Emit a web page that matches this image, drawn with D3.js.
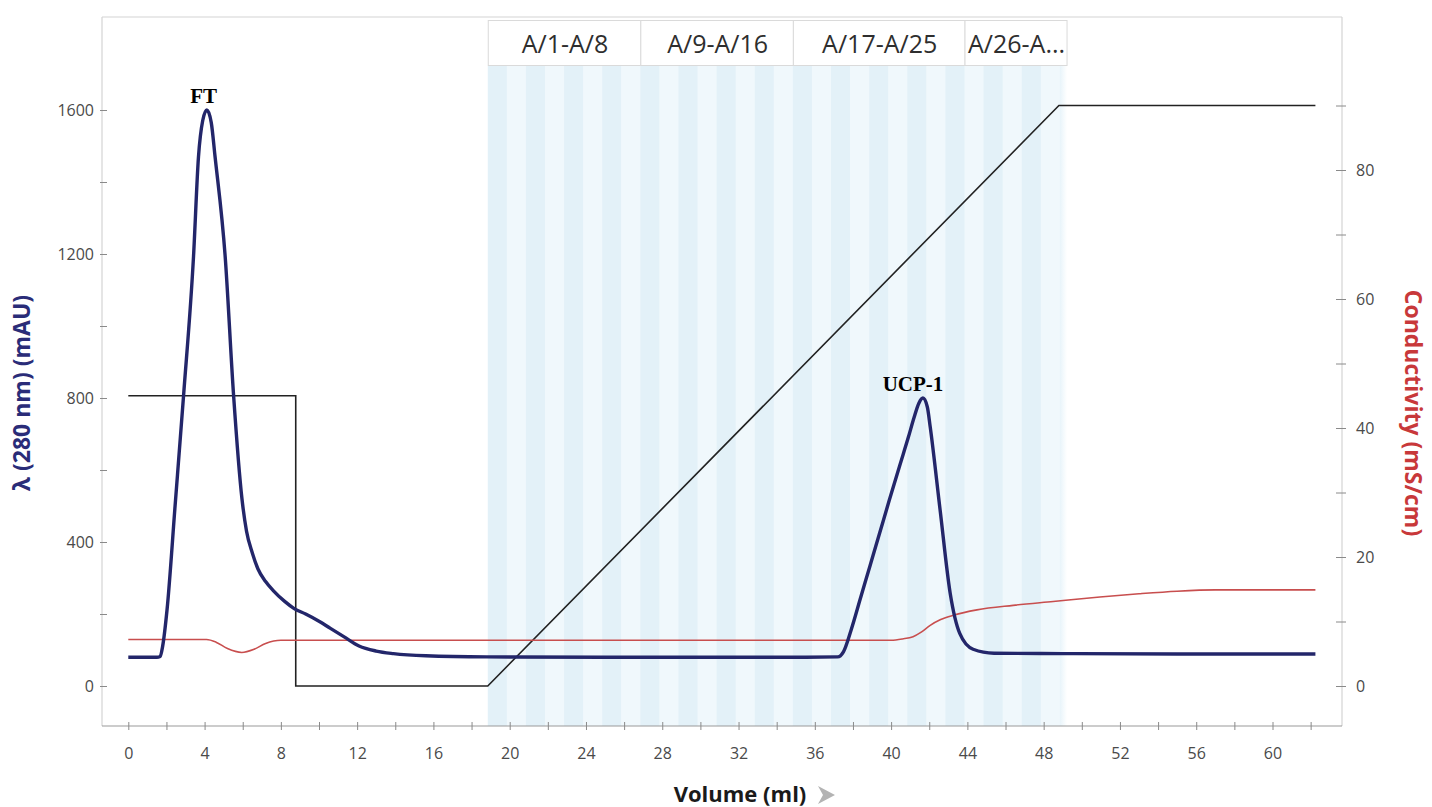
<!DOCTYPE html>
<html>
<head>
<meta charset="utf-8">
<script src="https://cdn.jsdelivr.net/npm/d3@7"></script>
<style>
  html, body { margin: 0; padding: 0; background: #ffffff; }
  svg { display: block; }
  text { font-family: "Open Sans", "Noto Sans", sans-serif; }
</style>
</head>
<body>
<div id="chart"></div>
<script>
// ---------- DATA ----------
// UV absorbance at 280 nm (mAU) vs volume (ml)
const uvVolume = [0, 1.5, 1.67, 1.8, 2.03, 2.45, 2.9, 3.42, 3.68, 3.9, 4.12, 4.35, 4.55, 5.08, 5.52, 5.96, 6.2, 6.5, 6.8, 7.2, 7.6, 8.2, 8.7, 9.3, 10.0, 10.6, 11.3, 12.1, 13.0, 13.9, 15.6, 18.8, 25, 30, 35, 37.2, 37.5, 37.9, 38.4, 38.9, 39.4, 39.9, 40.45, 40.9, 41.2, 41.45, 41.67, 41.9, 42.05, 42.57, 43.1, 43.6, 44.3, 45.4, 49, 55, 62.25];
const uvValue  = [80, 80, 82, 110, 211, 498, 808, 1193, 1470, 1570, 1600, 1565, 1470, 1193, 808, 520, 430, 370, 325, 290, 265, 235, 215, 200, 180, 160, 137, 111, 97, 90, 84, 81, 80, 80, 80, 81, 95, 155, 245, 335, 425, 515, 612, 690, 745, 785, 800, 775, 720, 489, 257, 146, 102, 91, 90, 89, 89];

// Conductivity (mS/cm) vs volume (ml)
const condVolume = [0, 4.1, 4.6, 5.2, 5.95, 6.6, 7.2, 8.0, 12, 20, 30, 40, 40.6, 41.15, 41.6, 42.05, 42.6, 43.3, 44.5, 46.4, 48.5, 50.95, 53, 55, 57, 62.25];
const condValue  = [7.2, 7.2, 6.8, 5.8, 5.2, 5.7, 6.6, 7.1, 7.1, 7.1, 7.1, 7.1, 7.3, 7.65, 8.4, 9.4, 10.3, 11.0, 11.8, 12.5, 13.1, 13.8, 14.3, 14.7, 14.9, 14.9];

// Gradient / concentration trace (right-axis units) vs volume (ml)
const gradVolume = [0, 8.78, 8.78, 18.85, 48.8, 62.25];
const gradValue  = [45, 45, 0, 0, 90, 90];

// Fraction edges (ml) and fraction-group labels
const fractionEdges = [18.85, 19.85, 20.85, 21.85, 22.85, 23.85, 24.85, 25.85, 26.85, 27.85, 28.85, 29.85, 30.85, 31.85, 32.85, 33.85, 34.85, 35.85, 36.85, 37.85, 38.85, 39.85, 40.85, 41.85, 42.85, 43.85, 44.85, 45.85, 46.85, 47.85, 48.85, 49.2];
const groupLabels = ["A/1-A/8", "A/9-A/16", "A/17-A/25", "A/26-A..."];
const groupStartFraction = [0, 8, 16, 25]; // index into fractionEdges
const groupEndFraction   = [8, 16, 25, 31];

// Peak annotations
const peakNames  = ["FT", "UCP-1"];
const peakVolume = [3.95, 41.15];
const peakValue  = [1600, 800];

// Axis ticks
const xMajorTicks = [0, 4, 8, 12, 16, 20, 24, 28, 32, 36, 40, 44, 48, 52, 56, 60];
const xMinorTicks = [2, 6, 10, 14, 18, 22, 26, 30, 34, 38, 42, 46, 50, 54, 58, 62];
const yLeftMajor  = [0, 400, 800, 1200, 1600];
const yLeftMinor  = [200, 600, 1000, 1400];
const yRightMajor = [0, 20, 40, 60, 80];
const yRightMinor = [10, 30, 50, 70, 90];

// ---------- LAYOUT ----------
const W = 1432, H = 807;
const frame = { left: 102, right: 1342, top: 17, bottom: 726 };

const svg = d3.select("#chart").append("svg")
  .attr("width", W).attr("height", H);

const x = d3.scaleLinear().domain([0, 62]).range([128.3, 128.3 + 62 * 19.07]);
const yL = d3.scaleLinear().domain([0, 1600]).range([686, 110]);
const yR = d3.scaleLinear().domain([0, 80]).range([686, 170]);

// ---------- FRACTION STRIPES ----------
const stripes = d3.range(fractionEdges.length - 1).map(i => ({ i, a: fractionEdges[i], b: fractionEdges[i + 1] }));
const defs = svg.append("defs");
const fade = defs.append("linearGradient").attr("id", "fadeR").attr("x1", 0).attr("x2", 1).attr("y1", 0).attr("y2", 0);
fade.append("stop").attr("offset", "0%").attr("stop-color", "#e8f4fa");
fade.append("stop").attr("offset", "100%").attr("stop-color", "#ffffff");

svg.append("g").selectAll("rect").data(stripes).join("rect")
  .attr("x", d => x(d.a))
  .attr("width", d => x(d.b) - x(d.a) + 0.5)
  .attr("y", 66)
  .attr("height", frame.bottom - 66)
  .attr("fill", d => d.i === stripes.length - 1 ? "url(#fadeR)" : (d.i % 2 === 0 ? "#e3f1f8" : "#f0f8fc"));

// fraction group label boxes
const groups = groupLabels.map((lab, k) => ({
  lab, a: fractionEdges[groupStartFraction[k]], b: fractionEdges[groupEndFraction[k]]
}));
const gb = svg.append("g");
gb.selectAll("rect").data(groups).join("rect")
  .attr("x", d => x(d.a) + 0.5)
  .attr("width", d => x(d.b) - x(d.a))
  .attr("y", 20.5).attr("height", 45)
  .attr("fill", "#ffffff").attr("stroke", "#dadada").attr("stroke-width", 1);
gb.selectAll("text").data(groups).join("text")
  .attr("x", d => (x(d.a) + x(d.b)) / 2 + 1)
  .attr("y", 53)
  .attr("text-anchor", "middle")
  .attr("font-size", 25)
  .attr("fill", "#2e2e2e")
  .text(d => d.lab);

// ---------- FRAME ----------
const fr = svg.append("g").attr("stroke", "#d4d4d4").attr("stroke-width", 1.2).attr("fill", "none");
fr.append("line").attr("x1", frame.left).attr("x2", frame.right).attr("y1", frame.top).attr("y2", frame.top);
fr.append("line").attr("x1", frame.left).attr("x2", frame.left).attr("y1", frame.top).attr("y2", frame.bottom);
fr.append("line").attr("x1", frame.right).attr("x2", frame.right).attr("y1", frame.top).attr("y2", frame.bottom);

// ---------- LINES ----------
const gradData = gradVolume.map((v, i) => [v, gradValue[i]]);
const condData = condVolume.map((v, i) => [v, condValue[i]]);
const uvData = uvVolume.map((v, i) => [v, uvValue[i]]);

svg.append("path").datum(gradData)
  .attr("d", d3.line().x(d => x(d[0])).y(d => yR(d[1])))
  .attr("fill", "none").attr("stroke", "#222").attr("stroke-width", 1.6);

svg.append("path").datum(condData)
  .attr("d", d3.line().curve(d3.curveMonotoneX).x(d => x(d[0])).y(d => yR(d[1])))
  .attr("fill", "none").attr("stroke", "#c84e4e").attr("stroke-width", 1.6);

svg.append("path").datum(uvData)
  .attr("d", d3.line().curve(d3.curveMonotoneX).x(d => x(d[0])).y(d => yL(d[1])))
  .attr("fill", "none").attr("stroke", "#23266a").attr("stroke-width", 3.4)
  .attr("stroke-linejoin", "round");

// peak labels
svg.append("g").selectAll("text").data(peakNames).join("text")
  .attr("x", (d, i) => x(peakVolume[i]))
  .attr("y", (d, i) => yL(peakValue[i]) - 7)
  .attr("text-anchor", "middle")
  .style("font-family", "'Liberation Serif', 'Times New Roman', serif")
  .attr("font-weight", "bold")
  .attr("font-size", 21)
  .attr("fill", "#000")
  .text(d => d);

// ---------- AXES ----------
function styleAxis(g) {
  g.select(".domain").remove();
  g.selectAll(".tick line").attr("stroke", "#8a8a8a").attr("stroke-width", 1);
  g.selectAll(".tick text").attr("fill", "#4a4a4a").attr("font-size", 16)
    .style("font-family", "'Open Sans', sans-serif");
}

// bottom
const xAxisG = svg.append("g").attr("transform", `translate(0,${frame.bottom})`);
xAxisG.append("line").attr("x1", frame.left).attr("x2", frame.right).attr("y1", 0).attr("y2", 0)
  .attr("stroke", "#9a9a9a").attr("stroke-width", 1.2);
xAxisG.append("g").call(d3.axisBottom(x).tickValues(xMajorTicks).tickSize(4).tickPadding(18).tickFormat(d3.format("d")))
  .call(styleAxis)
  .call(g => g.selectAll(".tick line").attr("y1", -4));
xAxisG.append("g").call(d3.axisBottom(x).tickValues(xMinorTicks).tickSize(4).tickFormat(""))
  .call(styleAxis)
  .call(g => g.selectAll(".tick line").attr("y1", -4));

// left
const yLG = svg.append("g").attr("transform", `translate(${frame.left},0)`);
yLG.append("g").call(d3.axisRight(yL).tickValues(yLeftMajor).tickSize(5).tickFormat(""))
  .call(styleAxis).call(g => g.selectAll(".tick line").attr("x1", -2));
yLG.append("g").call(d3.axisRight(yL).tickValues(yLeftMinor).tickSize(5).tickFormat(""))
  .call(styleAxis).call(g => g.selectAll(".tick line").attr("x1", -2));
yLG.append("g").call(d3.axisLeft(yL).tickValues(yLeftMajor).tickSize(0).tickPadding(8).tickFormat(d3.format("d")))
  .call(styleAxis);

// right
const yRG = svg.append("g").attr("transform", `translate(${frame.right},0)`);
yRG.append("g").call(d3.axisRight(yR).tickValues(yRightMajor).tickSize(4).tickPadding(10).tickFormat(d3.format("d")))
  .call(styleAxis).call(g => g.selectAll(".tick line").attr("x1", -6));
yRG.append("g").call(d3.axisRight(yR).tickValues(yRightMinor).tickSize(4).tickFormat(""))
  .call(styleAxis).call(g => g.selectAll(".tick line").attr("x1", -6));

// axis titles
svg.append("text")
  .attr("x", 740).attr("y", 802)
  .attr("text-anchor", "middle")
  .attr("font-size", 22).attr("font-weight", "bold").attr("fill", "#1a1a1a")
  .text("Volume (ml)");
svg.append("path")
  .attr("transform", "translate(818,786)")
  .attr("d", "M0,0 L17,9 L0,18 L5,9 Z")
  .attr("fill", "#b3b3b3");

svg.append("text")
  .attr("transform", "translate(30,393) rotate(-90)")
  .attr("text-anchor", "middle")
  .attr("font-size", 23).attr("font-weight", "bold").attr("fill", "#2a2c78")
  .text("λ (280 nm) (mAU)");

svg.append("text")
  .attr("transform", "translate(1405,413) rotate(90)")
  .attr("text-anchor", "middle")
  .attr("font-size", 23).attr("font-weight", "bold").attr("fill", "#c8383a")
  .text("Conductivity (mS/cm)");
</script>
</body>
</html>
